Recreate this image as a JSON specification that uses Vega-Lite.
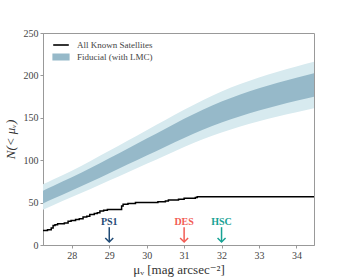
{
  "$schema": "https://vega.github.io/schema/vega-lite/v6.json",
  "width": 271,
  "height": 212,
  "autosize": {"type": "none"},
  "padding": {"left": 43, "top": 33, "right": 36, "bottom": 35},
  "background": "white",
  "config": {
    "font": "Liberation Serif, DejaVu Serif, serif",
    "view": {"stroke": "#999999", "strokeWidth": 1},
    "text": {"font": "Liberation Serif, DejaVu Serif, serif"},
    "legend": {"labelFont": "Liberation Serif, DejaVu Serif, serif"},
    "axis": {
      "labelFont": "Liberation Serif, DejaVu Serif, serif",
      "titleFont": "Liberation Serif, DejaVu Serif, serif",
      "labelFontSize": 10,
      "titleFontSize": 13,
      "titleFontWeight": "normal",
      "labelColor": "#444444",
      "titleColor": "#333333",
      "domainColor": "#999999",
      "tickColor": "#999999",
      "tickSize": 3,
      "grid": false
    }
  },
  "datasets": {
    "band": [
      {"mu": 27.23, "lo2": 41.5, "lo1": 49, "hi1": 64, "hi2": 71.5},
      {"mu": 27.5, "lo2": 46.8, "lo1": 54.4, "hi1": 69.6, "hi2": 77.2},
      {"mu": 28, "lo2": 56.5, "lo1": 64.2, "hi1": 79.8, "hi2": 87.5},
      {"mu": 28.5, "lo2": 66, "lo1": 74.2, "hi1": 90.8, "hi2": 99},
      {"mu": 29, "lo2": 76, "lo1": 84.7, "hi1": 102.3, "hi2": 111},
      {"mu": 29.5, "lo2": 85.9, "lo1": 95.1, "hi1": 113.9, "hi2": 123.1},
      {"mu": 30, "lo2": 95.7, "lo1": 105.5, "hi1": 125.5, "hi2": 135.3},
      {"mu": 30.5, "lo2": 105.6, "lo1": 115.9, "hi1": 137.1, "hi2": 147.4},
      {"mu": 31, "lo2": 115.5, "lo1": 126.2, "hi1": 148.8, "hi2": 159.5},
      {"mu": 31.5, "lo2": 124.6, "lo1": 135.8, "hi1": 159.6, "hi2": 170.8},
      {"mu": 32, "lo2": 132.6, "lo1": 144.4, "hi1": 169.2, "hi2": 181.0},
      {"mu": 32.5, "lo2": 139.6, "lo1": 151.9, "hi1": 177.5, "hi2": 189.8},
      {"mu": 33, "lo2": 145.9, "lo1": 158.6, "hi1": 184.8, "hi2": 197.5},
      {"mu": 33.5, "lo2": 151.6, "lo1": 164.6, "hi1": 191.4, "hi2": 204.4},
      {"mu": 34, "lo2": 156.6, "lo1": 170.0, "hi1": 197.2, "hi2": 210.6},
      {"mu": 34.47, "lo2": 161.2, "lo1": 174.9, "hi1": 202.5, "hi2": 216.2}
    ],
    "sats": [
      {"mu": 27.23, "n": 17},
      {"mu": 27.35, "n": 18},
      {"mu": 27.45, "n": 20},
      {"mu": 27.5, "n": 23},
      {"mu": 27.55, "n": 24},
      {"mu": 27.62, "n": 25},
      {"mu": 27.8, "n": 26},
      {"mu": 27.9, "n": 28},
      {"mu": 27.98, "n": 29},
      {"mu": 28.1, "n": 30},
      {"mu": 28.2, "n": 31},
      {"mu": 28.3, "n": 33},
      {"mu": 28.4, "n": 34},
      {"mu": 28.48, "n": 36},
      {"mu": 28.6, "n": 37},
      {"mu": 28.68, "n": 38},
      {"mu": 28.75, "n": 40},
      {"mu": 28.85, "n": 41},
      {"mu": 28.95, "n": 42},
      {"mu": 29.33, "n": 46},
      {"mu": 29.37, "n": 48},
      {"mu": 29.5, "n": 49},
      {"mu": 29.7, "n": 50},
      {"mu": 30.3, "n": 51},
      {"mu": 30.5, "n": 52},
      {"mu": 30.58, "n": 53},
      {"mu": 30.85, "n": 54},
      {"mu": 31.0, "n": 55},
      {"mu": 31.3, "n": 56},
      {"mu": 31.35, "n": 57},
      {"mu": 34.47, "n": 57}
    ],
    "surveys": [
      {"survey": "PS1", "mu": 29},
      {"survey": "DES", "mu": 31},
      {"survey": "HSC", "mu": 32}
    ]
  },
  "layer": [
    {
      "data": {"name": "band"},
      "mark": {"type": "area", "color": "#d7eaef", "clip": true, "interpolate": "monotone"},
      "encoding": {
        "x": {"field": "mu", "type": "quantitative",
              "scale": {"domain": [27.23, 34.47], "nice": false, "zero": false},
              "axis": {"values": [28, 29, 30, 31, 32, 33, 34], "title": "μᵥ [mag arcsec⁻²]", "titlePadding": 3}},
        "y": {"field": "lo2", "type": "quantitative",
              "scale": {"domain": [0, 250], "nice": false},
              "axis": {"values": [0, 50, 100, 150, 200, 250], "title": "N(< μᵥ)", "titleFontStyle": "italic", "titlePadding": 6}},
        "y2": {"field": "hi2"}
      }
    },
    {
      "data": {"name": "band"},
      "mark": {"type": "area", "clip": true, "interpolate": "monotone"},
      "encoding": {
        "x": {"field": "mu", "type": "quantitative"},
        "y": {"field": "lo1", "type": "quantitative"},
        "y2": {"field": "hi1"},
        "color": {"datum": "Fiducial (with LMC)", "type": "nominal",
          "scale": {"domain": ["All Known Satellites", "Fiducial (with LMC)"], "range": ["#000000", "#96b9c9"]},
          "legend": {
            "orient": "none", "legendX": 11, "legendY": 5, "title": null, "padding": 0,
            "symbolSize": 144, "labelFontSize": 9, "labelColor": "#444444",
            "labelOffset": 9, "rowPadding": 0, "symbolStrokeWidth": 1.6,
            "encode": {"symbols": {"update": {
              "shape": {"signal": "datum.value === 'All Known Satellites' ? 'M-1.3,0H1.3' : 'M-1.3,-0.45H1.3V0.45H-1.3Z'"},
              "fill": {"signal": "datum.value === 'All Known Satellites' ? 'transparent' : '#a9c1d0'"},
              "stroke": {"signal": "datum.value === 'All Known Satellites' ? '#000000' : 'transparent'"},
              "fillOpacity": {"value": 1},
              "strokeOpacity": {"value": 1}
            }}}
          }}
      }
    },
    {
      "data": {"name": "sats"},
      "mark": {"type": "line", "interpolate": "step-after", "strokeWidth": 1.5, "clip": true},
      "encoding": {
        "x": {"field": "mu", "type": "quantitative"},
        "y": {"field": "n", "type": "quantitative"},
        "color": {"datum": "All Known Satellites", "type": "nominal"}
      }
    },
    {
      "data": {"name": "surveys"},
      "mark": {"type": "rule", "strokeWidth": 1.5},
      "encoding": {
        "x": {"field": "mu", "type": "quantitative"},
        "y": {"datum": 21},
        "y2": {"datum": 3.5},
        "stroke": {"field": "survey", "type": "nominal",
          "scale": {"domain": ["PS1", "DES", "HSC"], "range": ["#1f4a75", "#f25c54", "#17a294"]}, "legend": null}
      }
    },
    {
      "data": {"name": "surveys"},
      "mark": {"type": "point", "shape": "M-1,-1L0,0L1,-1", "filled": false, "size": 64, "strokeWidth": 1.5, "opacity": 1},
      "encoding": {
        "x": {"field": "mu", "type": "quantitative"},
        "y": {"datum": 3.5},
        "stroke": {"field": "survey", "type": "nominal", "legend": null}
      }
    },
    {
      "data": {"name": "surveys"},
      "mark": {"type": "text", "fontWeight": "bold", "fontSize": 10, "baseline": "middle"},
      "encoding": {
        "x": {"field": "mu", "type": "quantitative"},
        "y": {"datum": 27},
        "text": {"field": "survey"},
        "fill": {"field": "survey", "type": "nominal",
          "scale": {"domain": ["PS1", "DES", "HSC"], "range": ["#1f4a75", "#f25c54", "#17a294"]}, "legend": null}
      }
    }
  ]
}
